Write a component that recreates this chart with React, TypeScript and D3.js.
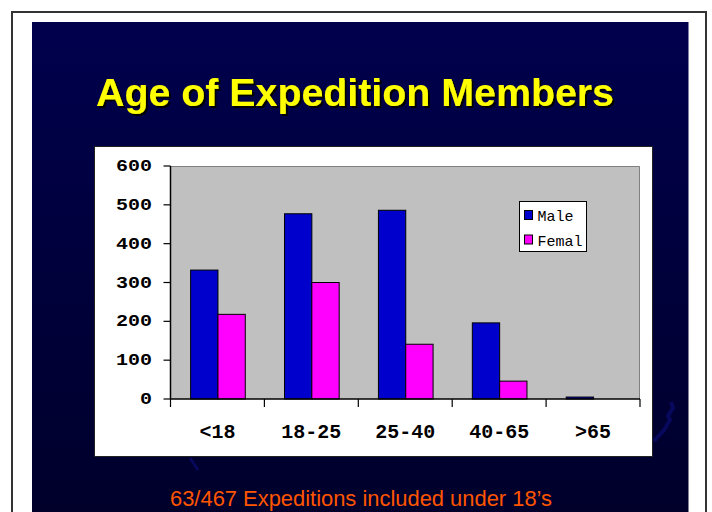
import React from "react";
import * as d3 from "d3";

const categories = ["<18", "18-25", "25-40", "40-65", ">65"];
const seriesNames = ["Male", "Femal"];
const maleValues = [332, 477, 486, 196, 5];
const femaleValues = [218, 300, 141, 46, 0];
const yTicks = [0, 100, 200, 300, 400, 500, 600];
const titleText = "Age of Expedition Members";
const footnote = "63/467 Expeditions included under 18\u2019s";

const colors = ["#0000CC", "#FF00FF"];

export default function App() {
  const W = 712;
  const H = 512;
  const plot = { left: 170.5, right: 640, top: 166, bottom: 399 };

  const x0 = d3
    .scaleBand<string>()
    .domain(categories)
    .range([plot.left, plot.right])
    .paddingInner(0.418)
    .paddingOuter(0.209);
  const x1 = d3
    .scaleBand<string>()
    .domain(seriesNames)
    .range([0, x0.bandwidth()])
    .padding(0);
  const y = d3.scaleLinear().domain([0, 600]).range([plot.bottom, plot.top]);

  const series = [maleValues, femaleValues];
  const step = x0.step();
  const boundaries = d3.range(categories.length + 1).map((i) => plot.left + i * step);

  const mono = "'Liberation Mono', 'Courier New', monospace";
  const sans = "'Liberation Sans', Arial, sans-serif";

  return (
    <svg
      width={W}
      height={H}
      viewBox={`0 0 ${W} ${H}`}
      style={{ position: "absolute", left: 0, top: 0, background: "#fff" }}
    >
      <defs>
        <linearGradient id="bg" x1="0" y1="0" x2="0" y2="1">
          <stop offset="0" stopColor="#00004d" />
          <stop offset="1" stopColor="#00002b" />
        </linearGradient>
        <filter id="shadow" x="-5%" y="-20%" width="110%" height="150%">
          <feDropShadow dx={2} dy={2} stdDeviation={0.3} floodColor="#000000" floodOpacity={1} />
        </filter>
      </defs>
      <rect x={0} y={0} width={W} height={H} fill="#ffffff" />
      {/* slide frame */}
      <rect x={12} y={12} width={694} height={H + 10} fill="none" stroke="#333" strokeWidth={2} />
      {/* dark panel */}
      <rect x={32} y={22} width={656.5} height={H - 22} fill="url(#bg)" />
      {/* faint decorations */}
      <path
        d="M654,441 L664,430 L670,420 L668,416 L673,408 L671,402"
        fill="none"
        stroke="#0c0c70"
        strokeWidth={4}
        opacity={0.7}
      />
      <path d="M190,458 L198,470" stroke="#0c0c70" strokeWidth={3} opacity={0.7} />

      {/* title */}
      <text
        x={96}
        y={106}
        fontFamily={sans}
        fontWeight="bold"
        fontSize={39}
        fill="#FFFF00"
        textLength={518}
        lengthAdjust="spacingAndGlyphs"
        filter="url(#shadow)"
      >
        {titleText}
      </text>

      {/* chart box */}
      <rect x={94.5} y={146.5} width={558} height={310} fill="#ffffff" stroke="#222" strokeWidth={1} />

      {/* plot area */}
      <rect
        x={plot.left}
        y={plot.top}
        width={plot.right - plot.left}
        height={plot.bottom - plot.top}
        fill="#C0C0C0"
      />
      <path
        d={`M${plot.left},${plot.top + 0.5}H${plot.right - 0.5}V${plot.bottom}`}
        fill="none"
        stroke="#808080"
        strokeWidth={1}
      />

      {/* bars */}
      {categories.map((c, i) => (
        <g key={c} transform={`translate(${x0(c)},0)`}>
          {seriesNames.map((s, j) => {
            const v = series[j][i];
            if (v <= 0) return null;
            return (
              <rect
                key={s}
                x={x1(s)! + 0.5}
                y={y(v)}
                width={x1.bandwidth()}
                height={plot.bottom - y(v)}
                fill={colors[j]}
                stroke="#000"
                strokeWidth={1}
              />
            );
          })}
        </g>
      ))}

      {/* axes */}
      <line x1={plot.left} x2={plot.left} y1={plot.top} y2={plot.bottom} stroke="#000" strokeWidth={1.5} />
      <line x1={plot.left} x2={plot.right} y1={plot.bottom} y2={plot.bottom} stroke="#000" strokeWidth={1.5} />
      {yTicks.map((t) => (
        <g key={t}>
          <line x1={plot.left - 7} x2={plot.left} y1={y(t)} y2={y(t)} stroke="#000" strokeWidth={1.2} />
          <text
            transform={`translate(152,${y(t) + 5}) scale(1.25,1)`}
            textAnchor="end"
            fontFamily={mono}
            fontWeight="bold"
            fontSize={16}
            fill="#000"
          >
            {t}
          </text>
        </g>
      ))}
      {boundaries.map((bx, i) => (
        <line key={i} x1={bx} x2={bx} y1={plot.bottom} y2={plot.bottom + 8} stroke="#000" strokeWidth={1.2} />
      ))}
      {categories.map((c) => (
        <text
          key={c}
          x={x0(c)! + x0.bandwidth() / 2}
          y={438}
          textAnchor="middle"
          fontFamily={mono}
          fontWeight="bold"
          fontSize={20}
          fill="#000"
        >
          {c}
        </text>
      ))}

      {/* legend */}
      <rect x={519.5} y={201.5} width={67} height={50} fill="#ffffff" stroke="#000" strokeWidth={1} />
      {seriesNames.map((s, j) => (
        <g key={s} transform={`translate(0,${j * 24.5})`}>
          <rect x={524.5} y={210.5} width={8} height={9} fill={colors[j]} stroke="#000" strokeWidth={1} />
          <text x={537.5} y={221} fontFamily={mono} fontSize={15} fill="#000">
            {s}
          </text>
        </g>
      ))}

      {/* footnote */}
      <text
        x={170}
        y={506}
        fontFamily={sans}
        fontSize={21.5}
        fill="#FF5500"
        textLength={382}
        lengthAdjust="spacingAndGlyphs"
      >
        {footnote}
      </text>
    </svg>
  );
}
